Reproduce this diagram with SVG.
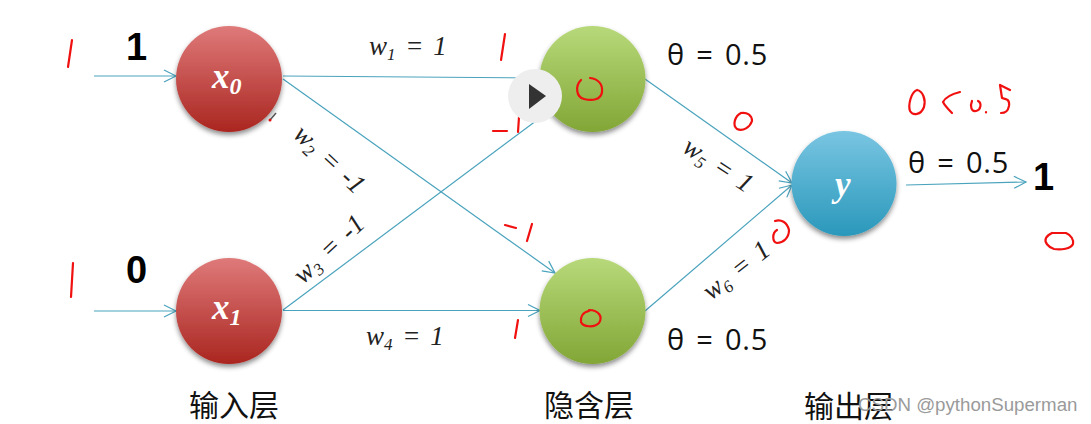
<svg xmlns="http://www.w3.org/2000/svg" width="1091" height="424" viewBox="0 0 1091 424">
<style>
.conn{fill:none;stroke:#4aa3bd;stroke-width:1.2}
.ink{fill:none;stroke:#f01010;stroke-width:2.2;stroke-linecap:round;stroke-linejoin:round}
.w{font-family:"Liberation Serif",serif;font-style:italic;font-size:27px;word-spacing:3px;fill:#222}
.w .s{font-size:17px}
.var{font-family:"Liberation Serif",serif;font-style:italic;font-weight:bold;font-size:35px;fill:#fff}
.var .s{font-size:24px}
.th{font-family:"Open Sans",sans-serif;font-size:29px;word-spacing:3px;letter-spacing:0.8px;fill:#111}
.big{font-family:"Liberation Sans",sans-serif;font-weight:bold;font-size:38px;fill:#000}
.zh{font-family:"Liberation Sans","Noto Sans CJK SC",sans-serif;font-size:30px;fill:#111}
.wm{font-family:"Liberation Sans",sans-serif;font-size:18.7px;fill:#9a9a9a}
</style>
<defs>
<linearGradient id="red" x1="0" y1="0" x2="0" y2="1"><stop offset="0" stop-color="#df7a7a"/><stop offset="1" stop-color="#aa2620"/></linearGradient>
<linearGradient id="green" x1="0" y1="0" x2="0" y2="1"><stop offset="0" stop-color="#b8d97a"/><stop offset="1" stop-color="#82a636"/></linearGradient>
<linearGradient id="blue" x1="0" y1="0" x2="0" y2="1"><stop offset="0" stop-color="#79c5e2"/><stop offset="1" stop-color="#2a98bb"/></linearGradient>
<filter id="sh" x="-20%" y="-20%" width="140%" height="140%"><feDropShadow dx="0" dy="3" stdDeviation="2.5" flood-color="#000" flood-opacity="0.45"/></filter>
<marker id="arr" markerUnits="userSpaceOnUse" markerWidth="16" markerHeight="16" refX="13" refY="7" orient="auto"><path d="M1 1L13 7L1 13" fill="none" stroke="#4aa3bd" stroke-width="1.2"/></marker>
</defs>
<rect width="1091" height="424" fill="#fff"/>
<g id="connectors">
<path class="conn" d="M94 76H176" marker-end="url(#arr)"/>
<path class="conn" d="M94 311H176" marker-end="url(#arr)"/>
<path class="conn" d="M283 76L541 78" marker-end="url(#arr)"/>
<path class="conn" d="M283 79L555 273" marker-end="url(#arr)"/>
<path class="conn" d="M283 310L556 106" marker-end="url(#arr)"/>
<path class="conn" d="M283 310.5H540" marker-end="url(#arr)"/>
<path class="conn" d="M645 79L792 183" marker-end="url(#arr)"/>
<path class="conn" d="M645 311L792 185" marker-end="url(#arr)"/>
<path class="conn" d="M906 185L1026 182" marker-end="url(#arr)"/>
</g>
<g id="node-x0"><circle cx="229" cy="79" r="53" fill="url(#red)" filter="url(#sh)"/><text class="var" x="212" y="88">x<tspan class="s" dy="6">0</tspan></text></g>
<g id="node-x1"><circle cx="229" cy="311" r="53" fill="url(#red)" filter="url(#sh)"/><text class="var" x="212" y="319">x<tspan class="s" dy="6">1</tspan></text></g>
<g id="node-h0"><circle cx="592.500" cy="79" r="53" fill="url(#green)" filter="url(#sh)"/></g>
<g id="node-h1"><circle cx="592.500" cy="311" r="53" fill="url(#green)" filter="url(#sh)"/></g>
<g id="node-y"><circle cx="844" cy="183.500" r="52.500" fill="url(#blue)" filter="url(#sh)"/><text class="var" x="835" y="196">y</text></g>
<g id="labels">
<text class="big" x="126" y="60">1</text>
<text class="big" x="126" y="283">0</text>
<text class="big" x="1033" y="190">1</text>
<text class="th" x="667" y="65">θ = 0.5</text>
<text class="th" x="667" y="350">θ = 0.5</text>
<text class="th" x="908" y="173">θ = 0.5</text>
<text class="w" x="369" y="55">w<tspan class="s" dy="5">1</tspan><tspan dy="-5"> = 1</tspan></text>
<text class="w" x="366" y="345">w<tspan class="s" dy="5">4</tspan><tspan dy="-5"> = 1</tspan></text>
<text class="w" transform="translate(292 136) rotate(43)">w<tspan class="s" dy="5">2</tspan><tspan dy="-5"> = -1</tspan></text>
<text class="w" transform="translate(303 285) rotate(-43)">w<tspan class="s" dy="5">3</tspan><tspan dy="-5"> = -1</tspan></text>
<text class="w" transform="translate(681 151) rotate(33)">w<tspan class="s" dy="5">5</tspan><tspan dy="-5"> = 1</tspan></text>
<text class="w" transform="translate(711 301) rotate(-38)">w<tspan class="s" dy="5">6</tspan><tspan dy="-5"> = 1</tspan></text>
<text class="zh" x="189" y="416">输入层</text>
<text class="zh" x="544" y="416">隐含层</text>
<text class="zh" x="804" y="417">输出层</text>
<text class="wm" x="858" y="411">CSDN @pythonSuperman</text>
</g>
<g id="ink">
<path class="ink" d="M72 40L68 67"/>
<path class="ink" d="M73 263L71 297"/>
<path class="ink" d="M505 34L501 60"/>
<path class="ink" d="M493 131H507M519 117L518 132"/>
<path class="ink" d="M505 225L516 228M532 224L527 241"/>
<path class="ink" d="M518 320L515 338"/>
<path class="ink" d="M581 80C575 86 576 97 584 99C592 101 601 100 602 92C603 84 598 79 590 78"/>
<path class="ink" d="M589 311C583 312 580 317 581 322C583 327 594 328 599 323C603 317 599 310 589 310"/>
<path class="ink" d="M741 113C735 116 732 125 737 129C743 132 750 127 752 121C752 115 747 112 741 113"/>
<path class="ink" d="M917 90C911 92 908 105 910 111C913 116 921 115 924 107C926 100 923 91 917 90"/>
<path class="ink" d="M960 92C952 94 945 98 943 102C945 106 949 110 952 113"/>
<path class="ink" d="M972 101C970 106 971 112 976 111C981 110 982 103 978 101M986 112V112.500"/>
<path class="ink" d="M1010 90L1000 85L1002 98C1006 99 1010 99 1009 106C1008 111 1006 113 1001 113"/>
<path class="ink" d="M775 221C781 219 787 222 789 230C789 238 783 243 777 243C772 242 772 233 777 230"/>
<path class="ink" d="M1052 233H1066C1071 235 1074 240 1073 244C1071 249 1061 250 1054 249C1048 247 1044 242 1046 238C1047 236 1050 234 1052 233"/>
</g>
<g id="cursor"><path d="M270 120L276 113" stroke="#555" stroke-width="1.500" fill="none"/><circle cx="270" cy="120" r="1.500" fill="#e01010"/></g>
<g id="play"><circle cx="535" cy="96" r="27" fill="#eeeeee"/><path d="M529 84L546 96L529 109Z" fill="#333"/></g>
</svg>
